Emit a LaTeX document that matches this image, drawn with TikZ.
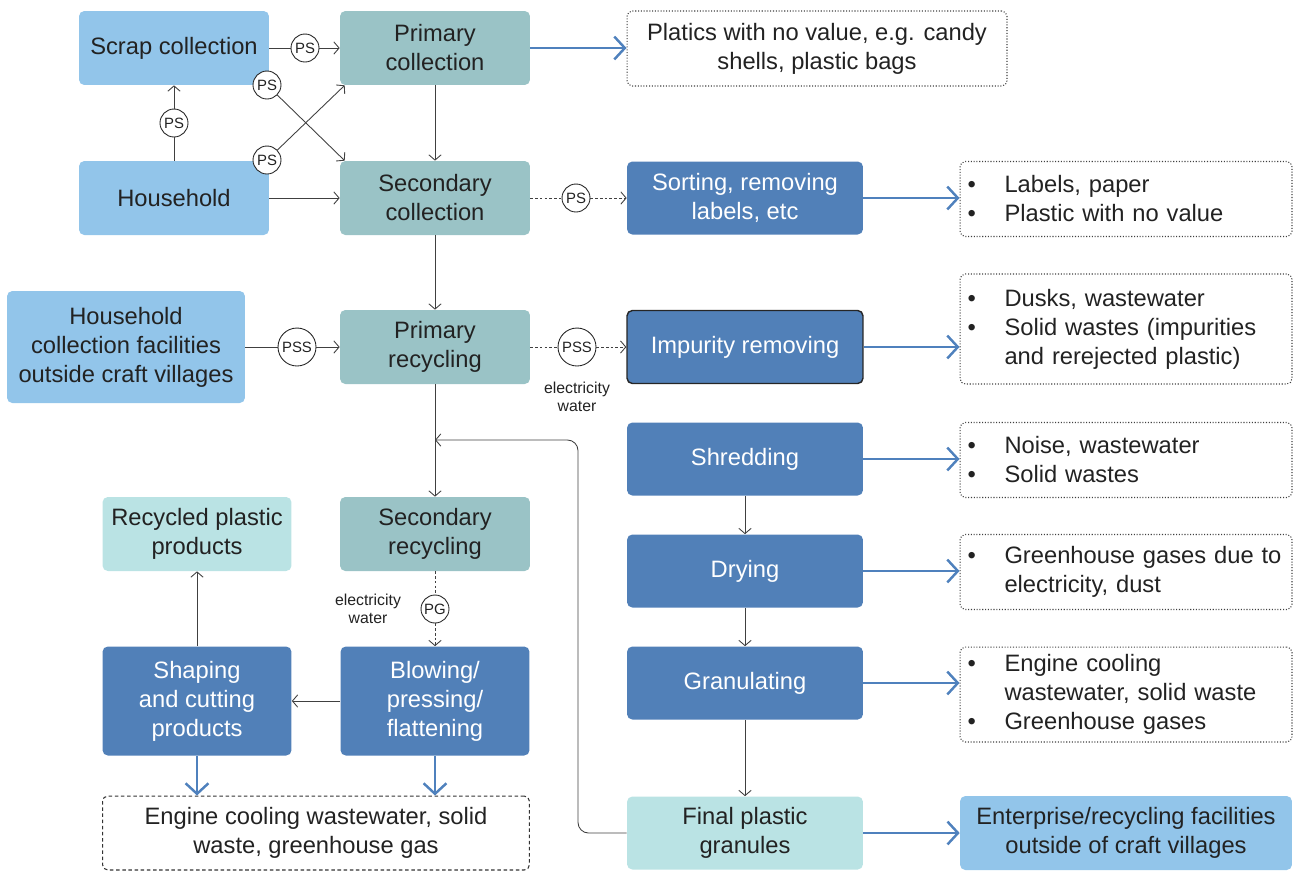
\documentclass[tikz,border=0pt]{standalone}
\usepackage{fontspec}
\setmainfont{Liberation Sans}
\usetikzlibrary{arrows.meta,positioning,calc}
\definecolor{skyblue}{HTML}{92C5EA}
\definecolor{tealbox}{HTML}{9AC3C6}
\definecolor{procblue}{HTML}{5180B8}
\definecolor{paleblue}{HTML}{BAE3E4}
\definecolor{outblue}{HTML}{4F81BD}
\definecolor{txt}{HTML}{222222}
\newcommand{\blt}{\makebox[0.74cm][l]{\textbullet}}
\newcommand{\nbl}{\hspace*{0.74cm}}

\begin{document}
\begin{tikzpicture}[x=0.02cm,y=-0.02cm,
    >={Straight Barb[length=3pt,width=7pt]},
    box/.style={rectangle,rounded corners=3pt,inner sep=2pt,align=center,text=txt,
        font=\fontsize{13.5}{16.5}\selectfont},
    srcbox/.style={box,fill=skyblue,minimum width=3.8cm,minimum height=1.48cm},
    colbox/.style={box,fill=tealbox,minimum width=3.8cm,minimum height=1.48cm},
    procbox/.style={box,fill=procblue,text=white,minimum width=4.72cm,minimum height=1.46cm},
    outbox/.style={box,draw=black!75,line width=0.6pt,densely dotted,inner xsep=0.15cm,
        text width=6.34cm,align=left,minimum height=1.5cm},
    flag/.style={circle,draw=black!85,fill=white,line width=0.5pt,inner sep=0pt,
        minimum size=0.56cm,text=txt,font=\fontsize{8.5}{10}\selectfont},
    bigflag/.style={flag,minimum size=0.76cm},
    note/.style={align=center,text=txt,font=\fontsize{9}{10.5}\selectfont},
    flow/.style={->,black!75,line width=0.5pt},
    dflow/.style={flow,dash pattern=on 1.5pt off 1.2pt},
    emit/.style={-{Straight Barb[length=6pt,width=13pt]},outblue,line width=1.4pt}]
\useasboundingbox (0,0) rectangle (1293,873);

\node[srcbox] (scrap) at (174,48) {Scrap collection};
\node[srcbox] (house) at (174,198) {Household};
\node[colbox] (pcol) at (435,48) {Primary\\collection};
\node[colbox] (scol) at (435,198) {Secondary\\collection};
\node[box,draw=black!75,line width=0.6pt,densely dotted,minimum width=7.6cm,minimum height=1.5cm]
    (noval) at (817,48.5) {Platics with no value, e.g. candy\\shells, plastic bags};
\node[procbox] (sort) at (745,198) {Sorting, removing\\labels, etc};
\node[outbox] (labels) at (1126,199) {\blt Labels, paper\\\blt Plastic with no value};
\node[srcbox,minimum width=4.76cm,minimum height=2.24cm] (facil) at (126,347)
    {Household\\collection facilities\\outside craft villages};
\node[colbox] (prec) at (435,347) {Primary\\recycling};
\node[procbox,draw=black!85,line width=0.8pt] (impur) at (745,347) {Impurity removing};
\node[outbox,minimum height=2.2cm] (dusks) at (1126,329)
    {\blt Dusks, wastewater\\\blt Solid wastes (impurities\\\nbl and rerejected plastic)};
\node[procbox] (shred) at (745,459) {Shredding};
\node[outbox] (noise) at (1126,460) {\blt Noise, wastewater\\\blt Solid wastes};
\node[procbox] (dry) at (745,571) {Drying};
\node[outbox] (ghg) at (1126,572) {\blt Greenhouse gases due to\\\nbl electricity, dust};
\node[procbox] (gran) at (745,683) {Granulating};
\node[outbox,minimum height=1.9cm] (engr) at (1126,694.5)
    {\blt Engine cooling\\\nbl wastewater, solid waste\\\blt Greenhouse gases};
\node[procbox,fill=paleblue,text=txt] (final) at (745,833) {Final plastic\\granules};
\node[srcbox,minimum width=6.64cm] (enter) at (1126,833)
    {Enterprise/recycling facilities\\outside of craft villages};
\node[colbox] (srec) at (435,534) {Secondary\\recycling};
\node[box,fill=paleblue,minimum width=3.78cm,minimum height=1.48cm] (recyc) at (197,534)
    {Recycled plastic\\products};
\node[procbox,minimum width=3.78cm,minimum height=2.18cm] (shape) at (197,701)
    {Shaping\\and cutting\\products};
\node[procbox,minimum width=3.78cm,minimum height=2.18cm] (blow) at (435,701)
    {Blowing/\\pressing/\\flattening};
\node[box,draw=black!80,line width=0.6pt,dash pattern=on 2pt off 1.5pt,
    minimum width=8.54cm,minimum height=1.48cm] (engb) at (316,833)
    {Engine cooling wastewater, solid\\waste, greenhouse gas};

\node[flag] (psa) at (174,123) {PS};
\node[flag] (psb) at (305,48) {PS};
\node[flag] (psc) at (267,85) {PS};
\node[flag] (psd) at (267,160) {PS};
\node[flag] (pse) at (576,198) {PS};
\node[bigflag] (pssa) at (297,347) {PSS};
\node[bigflag] (pssb) at (577,347) {PSS};
\node[flag] (pg) at (435,609) {PG};
\node[note] (elec1) at (577,397) {electricity\\water};
\node[note] (elec2) at (368,609) {electricity\\water};
\coordinate (fb) at (435,440);

\draw[black!75,line width=0.5pt] (house) -- (psa);
\draw[flow] (psa) -- (scrap);
\draw[black!75,line width=0.5pt] (scrap) -- (psb);
\draw[flow] (psb) -- (pcol);
\draw[flow] (psc) -- ([xshift=0.1cm]scol.north west);
\draw[flow] (psd) -- ([xshift=0.1cm]pcol.south west);
\draw[flow] (house) -- (scol);
\draw[flow] (pcol) -- (scol);
\draw[flow] (scol) -- (prec);
\draw[flow] (prec) -- (srec);
\draw[black!75,line width=0.5pt,dash pattern=on 1.5pt off 1.2pt] (scol) -- (pse);
\draw[dflow] (pse) -- (sort);
\draw[black!75,line width=0.5pt] (facil) -- (pssa);
\draw[flow] (pssa) -- (prec);
\draw[black!75,line width=0.5pt,dash pattern=on 1.5pt off 1.2pt] (prec) -- (pssb);
\draw[dflow] (pssb) -- (impur);
\draw[black!75,line width=0.5pt,dash pattern=on 1.5pt off 1.2pt] (srec) -- (pg);
\draw[dflow] (pg) -- (blow);
\draw[flow] (blow) -- (shape);
\draw[flow] (shape) -- (recyc);
\draw[flow] (shred) -- (dry);
\draw[flow] (dry) -- (gran);
\draw[flow] (gran) -- (final);
\draw[flow,rounded corners=6pt] (final.west) -- (578,833) -- (578,440) -- (fb);

\draw[emit] (pcol.east) -- (pcol.east -| noval.west);
\draw[emit] (sort.east) -- (sort.east -| labels.west);
\draw[emit] (impur.east) -- (impur.east -| dusks.west);
\draw[emit] (shred.east) -- (shred.east -| noise.west);
\draw[emit] (dry.east) -- (dry.east -| ghg.west);
\draw[emit] (gran.east) -- (gran.east -| engr.west);
\draw[emit] (final.east) -- (final.east -| enter.west);
\draw[emit] (shape.south) -- (shape.south |- engb.north);
\draw[emit] (blow.south) -- (blow.south |- engb.north);
\end{tikzpicture}
\end{document}
